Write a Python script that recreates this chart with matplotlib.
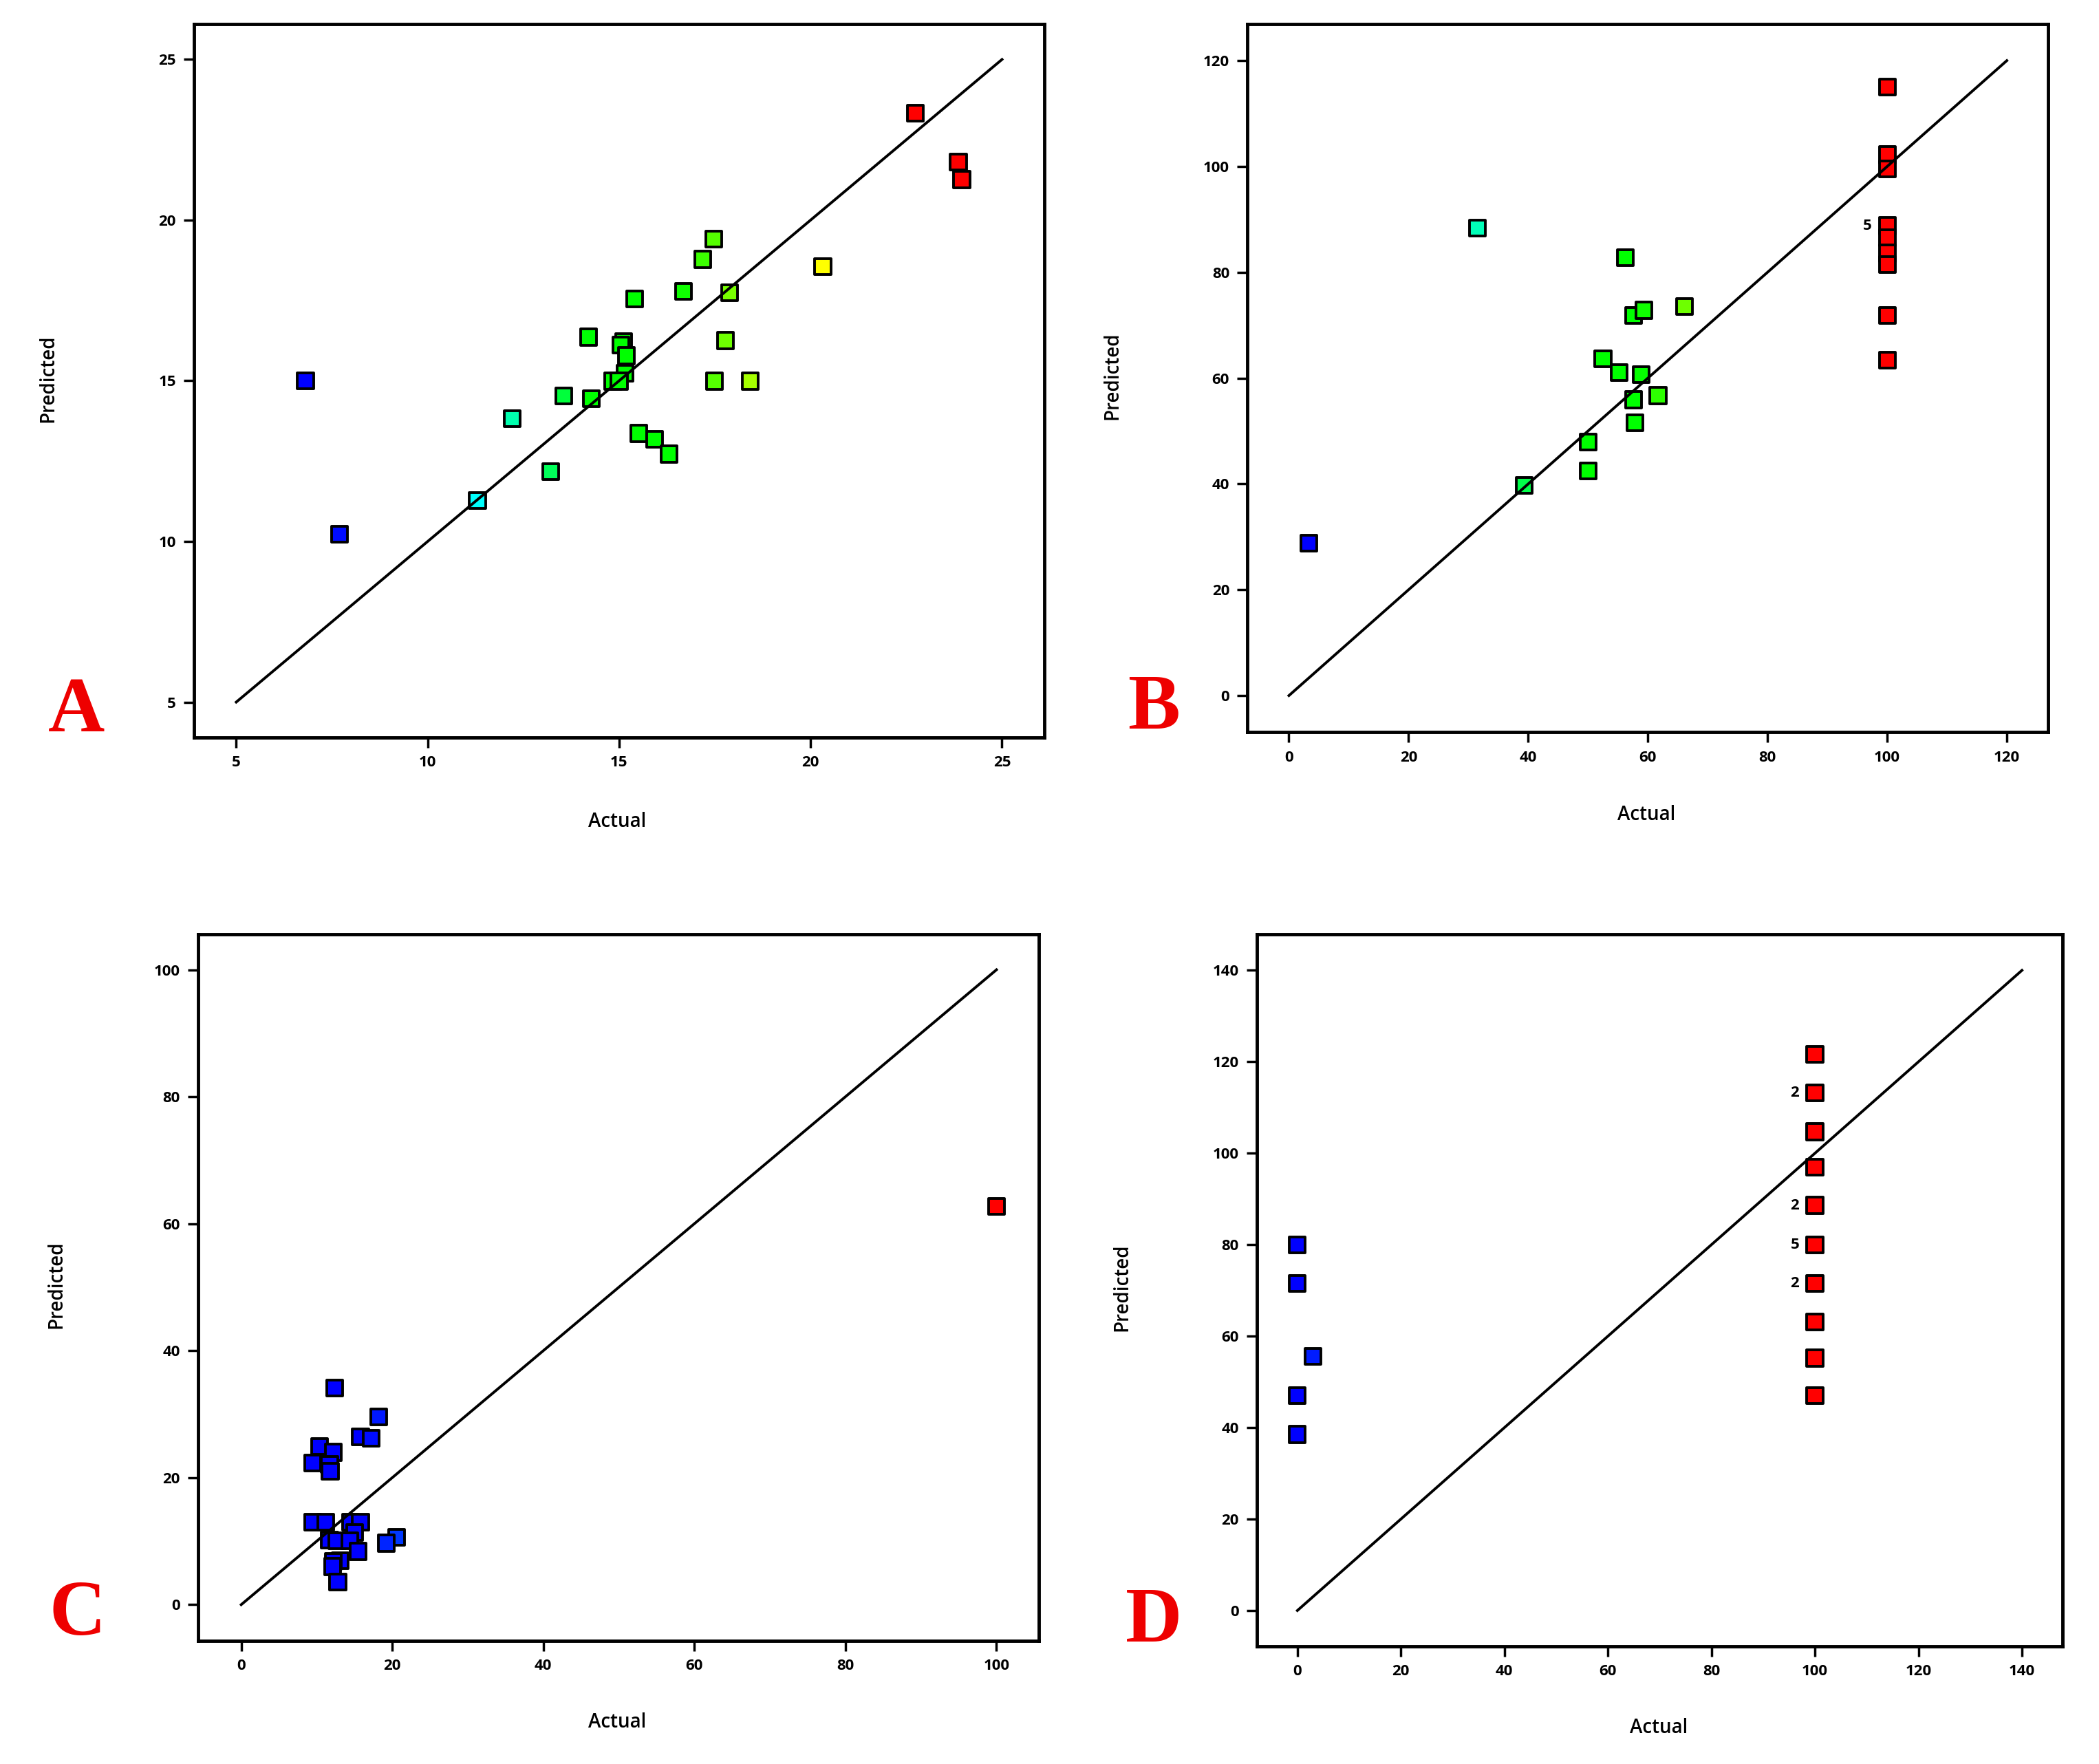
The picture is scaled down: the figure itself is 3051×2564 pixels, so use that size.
import matplotlib
matplotlib.use('Agg')
import matplotlib.pyplot as plt
from matplotlib.colors import LinearSegmentedColormap, Normalize

# ---- data ----
a_actual = [22.73, 23.86, 23.95, 20.32, 17.47, 17.18, 16.68, 17.89, 15.41, 14.20,
            15.12, 15.05, 15.19, 17.78, 15.16, 14.84, 15.00, 17.49, 18.43, 13.56,
            14.27, 12.21, 15.52, 15.92, 16.31, 13.22, 11.30, 6.81, 7.70]
a_predicted = [23.33, 21.80, 21.26, 18.55, 19.41, 18.78, 17.79, 17.74, 17.54, 16.36,
               16.21, 16.11, 15.78, 16.25, 15.24, 14.99, 14.99, 14.99, 14.99, 14.53,
               14.44, 13.82, 13.36, 13.18, 12.72, 12.17, 11.28, 15.00, 10.23]

b_actual = [3.3, 31.5, 39.3, 50.0, 50.0, 52.5, 55.2, 56.2, 57.6, 59.3, 58.9, 57.6,
            57.8, 61.7, 66.1, 100, 100, 100, 100, 100, 100, 100, 100, 100]
b_predicted = [28.8, 88.4, 39.7, 47.9, 42.5, 63.6, 61.0, 82.8, 71.8, 72.8, 60.7, 55.9,
               51.6, 56.7, 73.5, 115.0, 102.2, 99.5, 88.8, 86.5, 83.6, 81.5, 71.8, 63.4]
b_count_y = [88.8]
b_count_n = ['5']

c_actual = [100, 12.4, 18.2, 15.8, 17.2, 10.4, 12.2, 9.5, 11.7, 11.8, 9.5, 11.2, 14.5,
            15.8, 15.0, 11.7, 12.7, 14.4, 20.6, 19.2, 15.5, 13.1, 12.2, 12.1, 12.8]
c_predicted = [62.7, 34.1, 29.6, 26.4, 26.2, 24.9, 24.0, 22.3, 22.1, 21.0, 13.0, 13.0,
               13.0, 13.0, 11.4, 10.2, 10.1, 10.1, 10.6, 9.7, 8.4, 6.9, 6.8, 6.0, 3.6]

d_actual = [0, 0, 3, 0, 0, 100, 100, 100, 100, 100, 100, 100, 100, 100, 100]
d_predicted = [80.0, 71.5, 55.6, 47.0, 38.5, 121.6, 113.2, 104.7, 97.0, 88.6, 80.0,
               71.5, 63.1, 55.2, 47.0]
d_count_y = [113.2, 88.6, 80.0, 71.5]
d_count_n = ['2', '2', '5', '2']

# Design-Expert style blue -> cyan -> green -> yellow -> red
cmap = LinearSegmentedColormap.from_list('de', [
    (0.0, '#0000ff'), (0.25, '#00ffff'), (0.45, '#00ff00'), (0.6, '#00ff00'),
    (0.8, '#ffff00'), (0.9, '#ffff00'), (1.0, '#ff0000')])

W, H = 1568, 1318  # layout measured on the shrunk reference


def rect(x0, y0, x1, y1):
    return [x0 / W, 1 - y1 / H, (x1 - x0) / W, (y1 - y0) / H]


def panel(fig, box, actual, predicted, lim, ticks, norm, letter, letter_xy,
          pred_xy, act_xy, count_x=None, count_y=None, count_n=None):
    ax = fig.add_axes(rect(*box))
    ax.plot([ticks[0], ticks[-1]], [ticks[0], ticks[-1]], color='black', lw=2.8, zorder=3)
    ax.scatter(actual, predicted, marker='s', s=280, c=actual, cmap=cmap, norm=norm,
               edgecolors='black', linewidths=2.8, zorder=2)
    if count_y is not None:
        for y, n in zip(count_y, count_n):
            ax.annotate(n, (count_x, y), xytext=(-21, 0), textcoords='offset points',
                        ha='center', va='center', fontsize=16, fontweight='bold',
                        family='Open Sans')
    ax.set_xlim(*lim)
    ax.set_ylim(*lim)
    ax.set_xticks(ticks)
    ax.set_yticks(ticks)
    ax.tick_params(direction='out', length=11, width=2.5, labelsize=16, pad=8,
                   top=False, right=False)
    for lab in ax.get_xticklabels() + ax.get_yticklabels():
        lab.set_family('Open Sans')
        lab.set_fontweight('bold')
    for sp in ax.spines.values():
        sp.set_linewidth(3.5)
    fig.text(pred_xy[0] / W, 1 - pred_xy[1] / H, 'Predicted', rotation=90,
             ha='center', va='center', fontsize=20, family='Open Sans',
             fontweight='semibold')
    fig.text(act_xy[0] / W, 1 - act_xy[1] / H, 'Actual', ha='center', va='center',
             fontsize=20, family='Open Sans', fontweight='semibold')
    fig.text(letter_xy[0] / W, 1 - letter_xy[1] / H, letter, ha='center', va='center',
             fontsize=82, color='#ee0000', fontweight='bold', family='Liberation Serif')
    return ax


fig = plt.figure(figsize=(30.51, 25.64), dpi=100)

panel(fig, (145, 18, 780, 551), a_actual, a_predicted, (3.9, 26.1), [5, 10, 15, 20, 25],
      Normalize(7.5, 22.5), 'A', (57, 532), (36, 283), (461, 614))
panel(fig, (932, 18, 1530, 547), b_actual, b_predicted, (-6.9, 126.9),
      [0, 20, 40, 60, 80, 100, 120], Normalize(3.5, 95), 'B', (862, 530),
      (831, 281), (1230, 609), 100, b_count_y, b_count_n)
panel(fig, (148, 698, 776, 1226), c_actual, c_predicted, (-5.7, 105.6),
      [0, 20, 40, 60, 80, 100], Normalize(16, 100), 'C', (58, 1207),
      (42, 960), (461, 1287))
panel(fig, (939, 698, 1541, 1230), d_actual, d_predicted, (-7.8, 147.9),
      [0, 20, 40, 60, 80, 100, 120, 140], Normalize(0, 100), 'D', (862, 1212),
      (838, 962), (1239, 1291), 100, d_count_y, d_count_n)

fig.savefig('out.png', dpi=100, facecolor='white')
